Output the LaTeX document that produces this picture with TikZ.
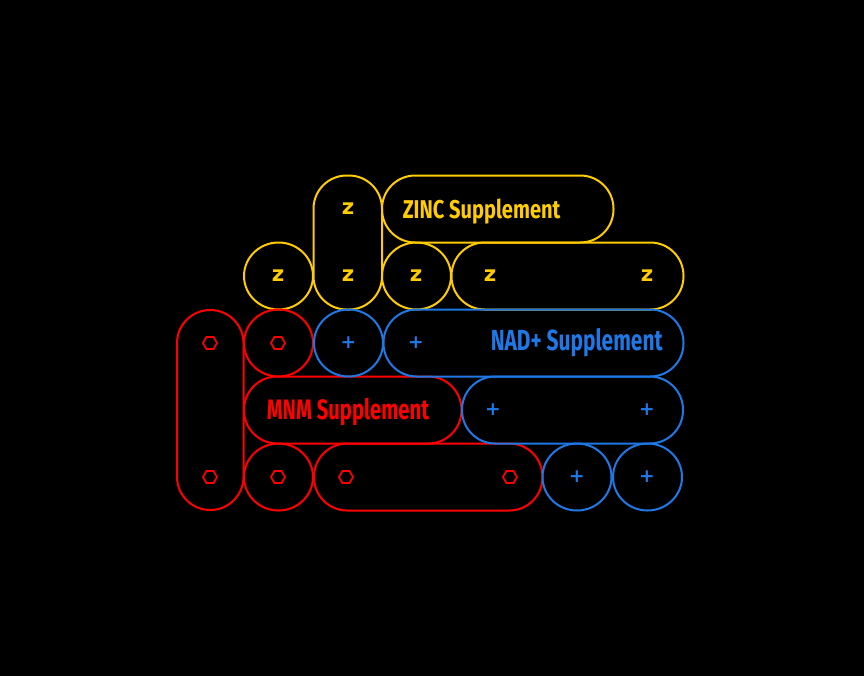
\documentclass[tikz,border=0pt]{standalone}
\usepackage{fontspec}
\usetikzlibrary{shapes.geometric}
\newfontfamily\labfont[FakeStretch=0.78]{Fira Sans}
\newfontfamily\labfontn[FakeStretch=0.72]{Fira Sans}
\newfontfamily\markfont{DejaVu Sans}
\definecolor{zyel}{HTML}{FFCC00}
\definecolor{nblu}{HTML}{1E78E6}
\definecolor{mred}{HTML}{FF0000}
\begin{document}
\begin{tikzpicture}[x=0.75pt,y=-0.75pt,
  shp/.style={line width=1.5pt, rounded corners=24.9pt},
  ring/.style={line width=1.5pt},
  zmark/.style={text=zyel, font=\markfont\bfseries\fontsize{16}{16}\selectfont, inner sep=0pt},
  pmark/.style={text=nblu, font=\markfont\bfseries\fontsize{14}{14}\selectfont, inner sep=0pt},
  hexmark/.style={draw=mred, line width=1.3pt, regular polygon, regular polygon sides=6, minimum size=10.5pt, inner sep=0pt},
  lab/.style={inner sep=0pt, anchor=base west}]
\useasboundingbox (0,0) rectangle (864,676);
\fill[black] (0,0) rectangle (864,676);
% yellow group
\draw[shp, draw=zyel] (313.5,175.5) rectangle (382,309.5);
\draw[shp, draw=zyel] (382,175.5) rectangle (613.5,242.5);
\draw[ring, draw=zyel] (278.5,276) circle[x radius=34.5, y radius=33.5];
\draw[ring, draw=zyel] (416.5,276) circle[x radius=34.5, y radius=33.5];
\draw[shp, draw=zyel] (451.5,242.5) rectangle (683.5,309.5);
% red group
\draw[shp, draw=mred] (177,310) rectangle (243.5,510);
\draw[ring, draw=mred] (278.5,343) circle[x radius=34.5, y radius=33.5];
\draw[shp, draw=mred] (244,376.5) rectangle (461.5,443.5);
\draw[ring, draw=mred] (278.5,477) circle[x radius=34.5, y radius=33.5];
\draw[shp, draw=mred] (314,443.5) rectangle (542.5,510.5);
% blue group
\draw[ring, draw=nblu] (348.5,343) circle[x radius=34.5, y radius=33.5];
\draw[shp, draw=nblu] (383.5,309.5) rectangle (683.5,376.5);
\draw[shp, draw=nblu] (462,376.5) rectangle (683,443.5);
\draw[ring, draw=nblu] (577,477) circle[x radius=34.5, y radius=33.5];
\draw[ring, draw=nblu] (647.5,477) circle[x radius=34.5, y radius=33.5];
% zinc marks
\node[zmark] (z1) at (348,209) {z};
\node[zmark] (z2) at (278,276) {z};
\node[zmark] (z3) at (348,276) {z};
\node[zmark] (z4) at (416,276) {z};
\node[zmark] (z5) at (490,276) {z};
\node[zmark] (z6) at (647,276) {z};
% hex marks
\node[hexmark] (h1) at (210,343) {};
\node[hexmark] (h2) at (278,343) {};
\node[hexmark] (h3) at (210,477) {};
\node[hexmark] (h4) at (278,477) {};
\node[hexmark] (h5) at (346,477) {};
\node[hexmark] (h6) at (510,477) {};
% plus marks
\node[pmark] (p1) at (348.5,343) {+};
\node[pmark] (p2) at (416,343) {+};
\node[pmark] (p3) at (493,410) {+};
\node[pmark] (p4) at (647,410) {+};
\node[pmark] (p5) at (577,477) {+};
\node[pmark] (p6) at (647,477) {+};
% labels
\node[lab, text=zyel, font=\labfont\bfseries\fontsize{19.3}{20}\selectfont] (zinc) at (402.5,218) {ZINC Supplement};
\node[lab, text=mred, font=\labfontn\bfseries\fontsize{21.1}{22}\selectfont] (mnm) at (266.5,419.7) {MNM Supplement};
\node[lab, text=nblu, font=\labfontn\bfseries\fontsize{21.8}{22}\selectfont] (nad) at (490.5,350.3) {NAD+ Supplement};
\end{tikzpicture}
\end{document}
